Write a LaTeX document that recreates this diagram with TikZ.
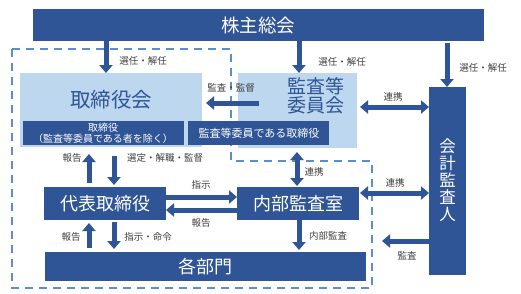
\documentclass[tikz,border=0pt]{standalone}
\usepackage{fontspec}
\newfontfamily\jp{Noto Sans CJK JP}
\usetikzlibrary{arrows.meta}
\definecolor{dkblue}{HTML}{2F5597}
\definecolor{ltblue}{HTML}{BDD7EE}
\definecolor{dashblue}{HTML}{5B8FCB}
\definecolor{lbl}{HTML}{404040}
\begin{document}
\begin{tikzpicture}[x=1pt,y=-1pt,
  dkbox/.style={fill=dkblue, draw=none, text=white, inner sep=0pt, outer sep=0pt, font=\jp\fontsize{18}{20}\selectfont},
  ltbox/.style={fill=ltblue, draw=none, inner sep=0pt, outer sep=0pt},
  bigtxt/.style={text=dkblue, font=\jp\fontsize{20.5}{20}\selectfont, inner sep=0pt, align=center},
  smalltxt/.style={text=white, font=\jp\fontsize{10.5}{12}\selectfont, inner sep=0pt, align=center},
  lab/.style={text=lbl, font=\jp\fontsize{9.5}{11}\selectfont, inner sep=0pt},
  arr/.style={draw=dkblue, line width=5pt, -{Triangle[width=13pt,length=8pt]}},
  darr/.style={draw=dkblue, line width=5pt, {Triangle[width=13pt,length=8pt]}-{Triangle[width=13pt,length=8pt]}},
  dashline/.style={draw=dashblue, line width=1.8pt, dash pattern=on 8pt off 6pt}]
\useasboundingbox[fill=white] (0,0) rectangle (521,293);

% dashed boundary
\draw[dashline] (12,49) -- (231,49) -- (231,161) -- (372,161) -- (372,288) -- (12,288) -- cycle;

% light boxes
\node[ltbox, minimum width=182pt, minimum height=74pt] (board) at (111,110) {};
\node[ltbox, minimum width=119pt, minimum height=75pt] (aud) at (297.5,110.5) {};
\node[bigtxt] (boardtxt) at (111,99.5) {取締役会};
\node[bigtxt, font=\jp\fontsize{19}{19.5}\selectfont] (audtxt) at (316,96) {監査等\\委員会};

% dark boxes
\node[dkbox, minimum width=451pt, minimum height=32pt] (sh) at (258.5,25) {};
\node[text=white, font=\jp\fontsize{18.5}{20}\selectfont, inner sep=0pt] (shtxt) at (258,25) {株主総会};
\node[dkbox, minimum width=161pt, minimum height=24pt] (dir) at (103.5,133) {};
\node[smalltxt, font=\jp\fontsize{10}{11.5}\selectfont] (dirtxt) at (103,133.5) {取締役\\（監査等委員である者を除く）};
\node[dkbox, minimum width=141pt, minimum height=24pt] (acdir) at (258.5,133) {};
\node[smalltxt, font=\jp\fontsize{11}{12}\selectfont] (acdirtxt) at (259,133) {監査等委員である取締役};
\node[dkbox, minimum width=37pt, minimum height=188pt] (ca) at (447.5,181) {};
\node[text=white, font=\jp\fontsize{16.5}{17}\selectfont, inner sep=0pt, align=center] (catxt) at (447.5,180.5) {会\\計\\監\\査\\人};
\node[dkbox, minimum width=122pt, minimum height=33pt] (rep) at (105,203.5) {代表取締役};
\node[dkbox, minimum width=122pt, minimum height=33pt] (ia) at (298,203.5) {内部監査室};
\node[dkbox, minimum width=321pt, minimum height=29pt] (dept) at (205.5,266.5) {各部門};

% helper coordinates
\coordinate (c1) at (106,0);
\coordinate (c2) at (299,0);
\coordinate (c3) at (447,0);
\coordinate (cL) at (89,0);
\coordinate (cR) at (114,0);
\coordinate (c4) at (297,0);
\coordinate (c5) at (299,0);
\coordinate (r1) at (0,103);
\coordinate (r2) at (0,107);
\coordinate (r3) at (0,197);
\coordinate (r4) at (0,210);
\coordinate (r5) at (0,193);
\coordinate (s4) at (259,103);
\coordinate (e12) at (382,241);

% arrows
\draw[arr] (sh.south -| c1) -- (board.north -| c1);
\draw[arr] (sh.south -| c2) -- (aud.north -| c2);
\draw[arr, shorten <=2pt] (sh.south -| c3) -- (ca.north -| c3);
\draw[arr, shorten >=4pt] (s4) -- (board.east |- s4);
\draw[darr, shorten <=3pt] (aud.east |- r2) -- (ca.west |- r2);
\draw[arr, shorten <=4pt, shorten >=7pt] (rep.north -| cL) -- (board.south -| cL);
\draw[arr, shorten <=9pt, shorten >=2pt] (board.south -| cR) -- (rep.north -| cR);
\draw[arr, shorten <=4pt, shorten >=3pt] (dept.north -| cL) -- (rep.south -| cL);
\draw[arr, shorten <=2pt, shorten >=3pt] (rep.south -| cR) -- (dept.north -| cR);
\draw[arr] (rep.east |- r3) -- (ia.west |- r3);
\draw[arr] (ia.west |- r4) -- (rep.east |- r4);
\draw[darr, shorten <=4pt, shorten >=1pt] (aud.south -| c4) -- (ia.north -| c4);
\draw[darr, shorten <=1pt] (ia.east |- r5) -- (ca.west |- r5);
\draw[arr, shorten >=2pt] (ia.south -| c5) -- (dept.north -| c5);
\draw[arr] (ca.west |- e12) -- (e12);

% labels
\node[lab] (l1) at (143,61) {選任・解任};
\node[lab] (l2) at (342,62) {選任・解任};
\node[lab] (l3) at (483,68) {選任・解任};
\node[lab] (l4) at (231,88) {監査・監督};
\node[lab] (l5) at (393,97) {連携};
\node[lab] (l6) at (72,158) {報告};
\node[lab] (l7) at (165,158) {選定・解職・監督};
\node[lab] (l8) at (201,185) {指示};
\node[lab] (l9) at (201,223) {報告};
\node[lab] (l10) at (71,237) {報告};
\node[lab] (l11) at (148,237) {指示・命令};
\node[lab] (l12) at (314,172) {連携};
\node[lab] (l13) at (395,183) {連携};
\node[lab] (l14) at (328,236) {内部監査};
\node[lab] (l15) at (407,256) {監査};
\end{tikzpicture}
\end{document}
